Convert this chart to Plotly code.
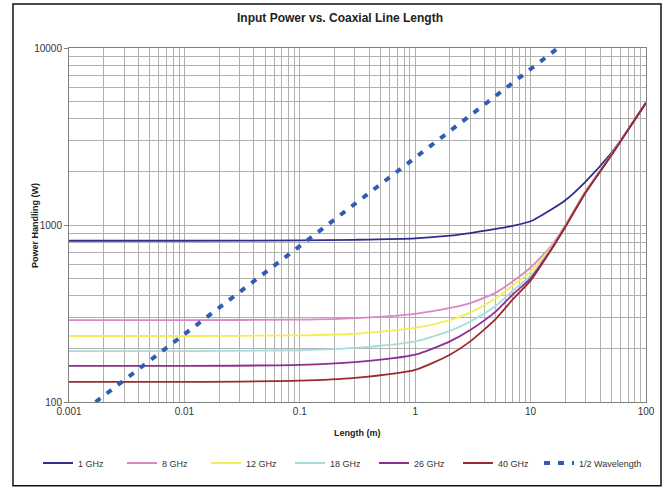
import plotly.graph_objects as go

length_m = [0.001, 0.01, 0.1, 0.3, 1, 2, 3, 5, 7, 10, 15, 20, 30, 50, 70, 100]

p_1ghz = [815, 815, 818, 825, 840, 870, 900, 950, 990, 1050, 1220, 1380, 1760, 2550, 3450, 4900]
p_8ghz = [290, 290, 292, 298, 315, 340, 362, 415, 480, 575, 760, 1000, 1560, 2490, 3470, 4900]
p_12ghz = [236, 236, 238, 243, 262, 290, 320, 385, 455, 545, 745, 990, 1550, 2485, 3465, 4900]
p_18ghz = [194, 194, 196, 202, 220, 252, 285, 350, 425, 518, 735, 985, 1540, 2480, 3460, 4900]
p_26ghz = [160, 160, 162, 168, 185, 220, 255, 325, 405, 500, 725, 980, 1530, 2475, 3455, 4900]
p_40ghz = [130, 130, 132, 137, 152, 185, 220, 295, 380, 485, 720, 975, 1525, 2470, 3450, 4900]

half_wave_len = [0.0017, 0.01, 0.1, 1, 10, 17.3]
half_wave_pow = [100, 240, 760, 2400, 7600, 10000]

series_names = ["1 GHz", "8 GHz", "12 GHz", "18 GHz", "26 GHz", "40 GHz"]
series_vals = [p_1ghz, p_8ghz, p_12ghz, p_18ghz, p_26ghz, p_40ghz]
series_colors = ["#2E2F8C", "#DB86C8", "#F2EE55", "#A6DCDC", "#8E2E90", "#9A2B2E"]

x_tick_vals = [0.001, 0.01, 0.1, 1, 10, 100]
x_tick_text = ["0.001", "0.01", "0.1", "1", "10", "100"]
y_tick_vals = [100, 1000, 10000]
y_tick_text = ["100", "1000", "10000"]

FONT = "Liberation Sans, Arial, sans-serif"

fig = go.Figure()
for name, vals, col in zip(series_names, series_vals, series_colors):
    fig.add_trace(go.Scatter(x=length_m, y=vals, mode="lines", name=name, legend="legend",
                             line=dict(color=col, width=1.8, shape="spline", smoothing=0.6)))
fig.add_trace(go.Scatter(x=half_wave_len, y=half_wave_pow, mode="lines", name="1/2 Wavelength",
                         legend="legend2",
                         line=dict(color="#2F5DB5", width=4, dash="6px,8px")))

grid = "#B0B0B0"
fig.update_xaxes(type="log", range=[-3, 2], tickvals=x_tick_vals, ticktext=x_tick_text,
                 showgrid=True, gridcolor=grid, gridwidth=1,
                 minor=dict(dtick="D1", showgrid=True, gridcolor=grid, gridwidth=1),
                 showline=True, linecolor="#808080", linewidth=1, mirror=True,
                 ticks="", tickfont=dict(family=FONT, size=10, color="#333333"),
                 zeroline=False)
fig.update_yaxes(type="log", range=[2, 4], tickvals=y_tick_vals, ticktext=y_tick_text,
                 showgrid=True, gridcolor=grid, gridwidth=1,
                 minor=dict(dtick="D1", showgrid=True, gridcolor=grid, gridwidth=1),
                 showline=True, linecolor="#808080", linewidth=1, mirror=True,
                 ticks="outside", ticklen=4, tickcolor="#808080",
                 tickfont=dict(family=FONT, size=10, color="#333333"),
                 zeroline=False)

legend_font = dict(family=FONT, size=9, color="#333333")
fig.update_layout(
    width=669, height=488,
    margin=dict(l=69, r=23, t=48, b=85),
    paper_bgcolor="white", plot_bgcolor="white",
    title=dict(text="<b>Input Power vs. Coaxial Line Length</b>", x=340/669, xanchor="center",
               y=1 - 18/488, yanchor="middle", font=dict(family=FONT, size=12, color="#222222")),
    showlegend=True,
    legend=dict(orientation="h", x=(38 - 69) / 577, xanchor="left", y=-0.169, yanchor="middle",
                font=legend_font, bgcolor="rgba(0,0,0,0)", entrywidth=39, tracegroupgap=0),
    legend2=dict(orientation="h", x=(539 - 69) / 577, xanchor="left", y=-0.169, yanchor="middle",
                 font=legend_font, bgcolor="rgba(0,0,0,0)", tracegroupgap=0),
    annotations=[
        dict(text="<b>Length (m)</b>", xref="paper", yref="paper", x=0.5, y=-0.087,
             showarrow=False, font=dict(family=FONT, size=9, color="#222222"),
             xanchor="center", yanchor="middle"),
        dict(text="<b>Power Handling (W)</b>", xref="paper", yref="paper", x=-0.059, y=0.5,
             showarrow=False, textangle=-90, font=dict(family=FONT, size=9, color="#222222"),
             xanchor="center", yanchor="middle"),
    ],
    shapes=[dict(type="rect", xref="paper", yref="paper",
                 x0=(13 - 69) / 577, x1=(661 - 69) / 577,
                 y0=(403 - 487) / 355, y1=(403 - 4) / 355,
                 line=dict(color="#111111", width=1.5), layer="below")],
)

fig.write_html("out.html", config={"displayModeBar": False},
               post_script="document.body.style.margin='0';document.body.style.padding='0';")
